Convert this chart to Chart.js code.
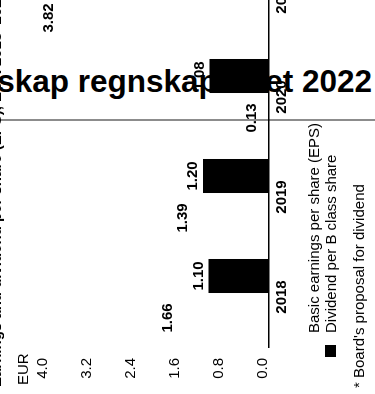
<!DOCTYPE html>
<html>
<head>
<meta charset="utf-8">
<script src="https://cdn.jsdelivr.net/npm/chart.js@4/dist/chart.umd.min.js"></script>
<style>
  html, body { margin: 0; padding: 0; background: #fff; }
  body { width: 375px; height: 394px; overflow: hidden; position: relative;
         font-family: "Liberation Sans", Arial, sans-serif; color: #000; }
  #heading { position: absolute; right: 3px; top: 66px; white-space: nowrap;
             font-weight: bold; font-size: 31.5px; line-height: 31.5px; }
  #rule { position: absolute; left: 0; top: 119px; width: 375px; height: 2px; background: #8c8c8c; }
  #panel { position: absolute; left: 0; top: 0; width: 450px; height: 405px;
           transform-origin: 0 0; transform: translate(-30px, 394px) rotate(-90deg); }
  #panel canvas { position: absolute; left: 0; top: 0; }
  .txt { position: absolute; white-space: nowrap; font-size: 15px; line-height: 15px; }
  #title { left: 7px; top: 17.7px; font-weight: bold; }
  #unit { left: 9px; top: 44.6px; }
  .legend-row { position: absolute; left: 37px; white-space: nowrap; font-size: 15px; line-height: 15px; }
  .legend-row .box { position: absolute; left: 0; top: 2px; width: 12px; height: 11px; }
  .legend-row .label { position: absolute; left: 24px; top: 0; }
  #note { left: 6px; top: 380.6px; }
</style>
</head>
<body>
<div id="heading">Årsregnskap regnskapsåret 2022</div>
<div id="rule"></div>
<div id="panel">
  <canvas id="chart" width="450" height="405"></canvas>
  <div class="txt" id="title">Earnings and dividend per share (EPS), EUR 2018–2022</div>
  <div class="txt" id="unit">EUR</div>
  <div id="legend"></div>
  <div class="txt" id="note">* Board's proposal for dividend</div>
</div>
<script>
// Years on the category axis
const years = ['2018', '2019', '2020', '2021'];
// Basic earnings per share (EPS), EUR
const eps = [1.66, 1.39, 0.13, 3.82];
// Dividend per B class share, EUR
const dividend = [1.10, 1.20, 1.08, 1.35];
// Value axis ticks, EUR
const valueTicks = [0.0, 0.8, 1.6, 2.4, 3.2, 4.0];

const FONT = '"Liberation Sans", Arial, sans-serif';

// Prints each bar's value just beyond its end
const valueLabels = {
  id: 'valueLabels',
  afterDatasetsDraw(chart) {
    const ctx = chart.ctx;
    ctx.save();
    ctx.font = 'bold 15px ' + FONT;
    ctx.fillStyle = '#000';
    ctx.textAlign = 'center';
    ctx.textBaseline = 'alphabetic';
    chart.data.datasets.forEach((ds, i) => {
      chart.getDatasetMeta(i).data.forEach((bar, j) => {
        ctx.fillText(ds.data[j].toFixed(2), bar.x, bar.y - 6);
      });
    });
    ctx.restore();
  }
};

const chart = new Chart(document.getElementById('chart'), {
  type: 'bar',
  data: {
    labels: years,
    datasets: [
      { label: 'Basic earnings per share (EPS)', data: eps,
        backgroundColor: 'rgba(0,0,0,0)', borderWidth: 0 },
      { label: 'Dividend per B class share', data: dividend,
        backgroundColor: '#000', borderWidth: 0 }
    ]
  },
  options: {
    responsive: false,
    animation: false,
    devicePixelRatio: 1,
    categoryPercentage: 0.84,
    barPercentage: 0.81,
    layout: { padding: { left: 15, right: 3, top: 79, bottom: 76 } },
    plugins: { legend: { display: false }, title: { display: false }, tooltip: { enabled: false } },
    scales: {
      x: {
        grid: { display: false, drawTicks: false },
        border: { display: true, color: '#000', width: 1.5 },
        ticks: { color: '#000', padding: 4, font: { family: FONT, size: 15, weight: 'bold' } },
        afterFit(s) { s.height = 30; }
      },
      y: {
        min: 0, max: 4,
        grid: { display: false, drawTicks: false },
        border: { display: false },
        afterBuildTicks(s) { s.ticks = valueTicks.map(v => ({ value: v })); },
        ticks: { color: '#000', padding: 11, labelOffset: -6,
                 font: { family: FONT, size: 15 },
                 callback: v => Number(v).toFixed(1) },
        afterFit(s) { s.width = 32; }
      }
    }
  },
  plugins: [valueLabels]
});

// Legend rows built from the datasets
const legend = document.getElementById('legend');
const rowTops = [335.8, 352.8];
chart.data.datasets.forEach((ds, i) => {
  const row = document.createElement('div');
  row.className = 'legend-row';
  row.style.top = rowTops[i] + 'px';
  const box = document.createElement('span');
  box.className = 'box';
  box.style.background = ds.backgroundColor;
  const label = document.createElement('span');
  label.className = 'label';
  label.textContent = ds.label;
  row.appendChild(box);
  row.appendChild(label);
  legend.appendChild(row);
});
</script>
</body>
</html>
